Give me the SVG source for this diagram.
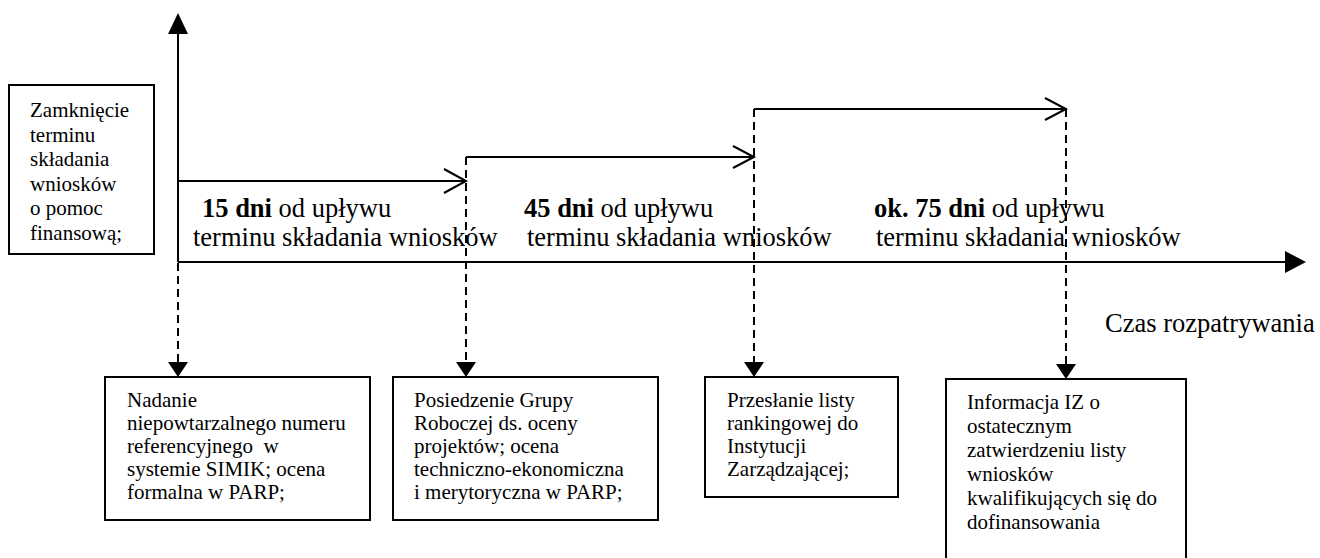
<svg xmlns="http://www.w3.org/2000/svg" width="1320" height="558" viewBox="0 0 1320 558">
<style>
.box{fill:#fff;stroke:#000;stroke-width:2}
.ln{fill:none;stroke:#000;stroke-width:2}
.dash{fill:none;stroke:#000;stroke-width:2;stroke-dasharray:8 5}
.head{fill:#000;stroke:none}
text{font-family:'Liberation Serif','Times New Roman','DejaVu Serif',serif;fill:#000}
.t{font-size:21px}
.lbl{font-size:26.5px}
.b{font-weight:bold}
</style>
<rect width="1320" height="558" fill="#fff"/>
<g id="connectors">
  <line class="ln" x1="178" y1="30" x2="178" y2="262"/>
  <polygon class="head" points="178,13 168,34 188,34"/>
  <line class="ln" x1="178" y1="262" x2="1288" y2="262"/>
  <polygon class="head" points="1306,262 1285,251 1285,273"/>
  <line class="dash" x1="178" y1="263" x2="178" y2="364"/>
  <polygon class="head" points="178,377 168,362 188,362"/>
  <line class="ln" x1="178" y1="181" x2="466" y2="181"/>
  <polyline class="ln" points="444,169 466,181 444,193"/>
  <line class="ln" x1="466" y1="157" x2="754" y2="157"/>
  <polyline class="ln" points="733,146 754,157 733,168"/>
  <line class="ln" x1="754" y1="109" x2="1066" y2="109"/>
  <polyline class="ln" points="1045,98 1066,109 1045,120"/>
  <line class="dash" x1="466" y1="157" x2="466" y2="364"/>
  <polygon class="head" points="466,377 456,362 476,362"/>
  <line class="dash" x1="754" y1="109" x2="754" y2="364"/>
  <polygon class="head" points="754,377 744,362 764,362"/>
  <line class="dash" x1="1066" y1="109" x2="1066" y2="366"/>
  <polygon class="head" points="1066,379 1056,364 1076,364"/>
</g>
<g id="labels" font-family="Liberation Serif, serif">
  <text class="lbl" x="202" y="217"><tspan class="b">15 dni</tspan> od upływu</text>
  <text class="lbl" x="193" y="246">terminu składania wniosków</text>
  <text class="lbl" x="524" y="217"><tspan class="b">45 dni</tspan> od upływu</text>
  <text class="lbl" x="527" y="246">terminu składania wniosków</text>
  <text class="lbl" x="874" y="217"><tspan class="b">ok. 75 dni</tspan> od upływu</text>
  <text class="lbl" x="876" y="246">terminu składania wniosków</text>
  <text class="lbl" x="1105" y="332">Czas rozpatrywania</text>
</g>
<g id="node-start">
  <rect class="box" x="9" y="85" width="145" height="169"/>
  <text class="t" x="30" y="117">Zamknięcie</text>
  <text class="t" x="30" y="142">terminu</text>
  <text class="t" x="30" y="166">składania</text>
  <text class="t" x="30" y="191">wniosków</text>
  <text class="t" x="30" y="215">o pomoc</text>
  <text class="t" x="30" y="240">finansową;</text>
</g>
<g id="node-1">
  <rect class="box" x="105" y="377" width="265" height="143"/>
  <text class="t" x="127" y="407">Nadanie</text>
  <text class="t" x="127" y="430">niepowtarzalnego numeru</text>
  <text class="t" x="127" y="453" xml:space="preserve">referencyjnego  w</text>
  <text class="t" x="127" y="476">systemie SIMIK; ocena</text>
  <text class="t" x="127" y="499">formalna w PARP;</text>
</g>
<g id="node-2">
  <rect class="box" x="393" y="377" width="265" height="143"/>
  <text class="t" x="414" y="407">Posiedzenie Grupy</text>
  <text class="t" x="414" y="430">Roboczej ds. oceny</text>
  <text class="t" x="414" y="453">projektów; ocena</text>
  <text class="t" x="414" y="476">techniczno-ekonomiczna</text>
  <text class="t" x="414" y="499">i merytoryczna w PARP;</text>
</g>
<g id="node-3">
  <rect class="box" x="705" y="377" width="193" height="120"/>
  <text class="t" x="727" y="407">Przesłanie listy</text>
  <text class="t" x="727" y="430">rankingowej do</text>
  <text class="t" x="727" y="453">Instytucji</text>
  <text class="t" x="727" y="476">Zarządzającej;</text>
</g>
<g id="node-4">
  <rect class="box" x="946" y="379" width="240" height="182"/>
  <text class="t" x="967" y="409">Informacja IZ o</text>
  <text class="t" x="967" y="433">ostatecznym</text>
  <text class="t" x="967" y="457">zatwierdzeniu listy</text>
  <text class="t" x="967" y="481">wniosków</text>
  <text class="t" x="967" y="505">kwalifikujących się do</text>
  <text class="t" x="967" y="529">dofinansowania</text>
</g>
</svg>
